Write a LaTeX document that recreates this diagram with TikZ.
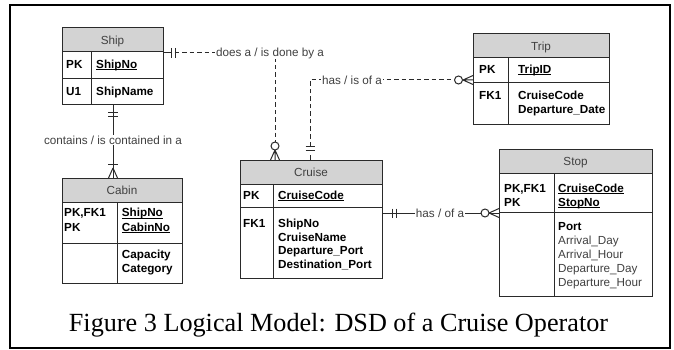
\documentclass[tikz,border=0pt]{standalone}
\usepackage{fontspec}
\setmainfont{Liberation Sans}
\newfontfamily\capfont{Liberation Serif}
\usetikzlibrary{calc}

\definecolor{hdrfill}{HTML}{D3D3D3}
\definecolor{lbl}{HTML}{404040}
\definecolor{bordc}{HTML}{2A2A2A}

% key attribute, underlined just below the baseline
\newcommand\keyline[1]{\setbox0\hbox{#1}\rlap{\rule[-1.9pt]{\wd0}{0.75pt}}\box0}
\newcommand\tblfont{\fontsize{11.7}{14}\selectfont}

\begin{document}
\begin{tikzpicture}[x=1pt,y=-1pt,
  tbl/.style 2 args={draw=bordc, line width=1pt, anchor=north west, inner sep=0pt,
    outer sep=0pt, minimum width=#1, minimum height=#2,
    path picture={\fill[hdrfill] (path picture bounding box.north west)
      rectangle ([yshift=-24pt]path picture bounding box.north east);}},
  grid/.style={draw=bordc, line width=1pt},
  head/.style={anchor=base, inner sep=0pt, font=\tblfont, text=lbl},
  cell/.style={anchor=base west, inner sep=0pt, font=\tblfont\bfseries, text=black},
  plain/.style={anchor=base west, inner sep=0pt, font=\tblfont, text=lbl},
  rel/.style={draw=bordc, line width=1pt},
  relopt/.style={rel, dash pattern=on 4.5pt off 3pt},
  lab/.style={inner sep=1pt, fill=white, font=\tblfont, text=lbl},
]
\useasboundingbox (0,0) rectangle (674,350);
\draw[line width=1.6pt] (10,5) rectangle (670,348);

% ---------------- Ship ----------------
\node[tbl={101pt}{77pt}] (ship) at (62,28) {};
\draw[grid] (62,52) -- (163,52) (62,79) -- (163,79) (91,52) -- (91,105);
\node[head] (ship-h) at (112.5,44.5) {Ship};
\node[cell] (ship-k1) at (66,68.3) {PK};
\node[cell] (ship-a1) at (96,68.3) {\keyline{ShipNo}};
\node[cell] (ship-k2) at (66,96) {U1};
\node[cell] (ship-a2) at (96,96) {ShipName};

% ---------------- Trip ----------------
\node[tbl={136pt}{91pt}] (trip) at (473,34) {};
\draw[grid] (473,58) -- (609,58) (473,83) -- (609,83) (508,58) -- (508,125);
\node[head] (trip-h) at (541,50.5) {Trip};
\node[cell] (trip-k1) at (479,73.3) {PK};
\node[cell] (trip-a1) at (518,73.3) {\keyline{TripID}};
\node[cell] (trip-k2) at (479,99.5) {FK1};
\foreach \t [count=\i from 0] in {CruiseCode,Departure\_Date}
  \node[cell] (trip-b\i) at (518,99.5+14*\i) {\t};

% ---------------- Cabin ----------------
\node[tbl={120pt}{105pt}] (cabin) at (62,178) {};
\draw[grid] (62,202) -- (182,202) (62,243) -- (182,243) (117,202) -- (117,283);
\node[head] (cabin-h) at (122,194.5) {Cabin};
\foreach \t [count=\i from 0] in {{PK,FK1},PK}
  \node[cell] (cabin-k\i) at (64,216.7+14.3*\i) {\t};
\foreach \t [count=\i from 0] in {ShipNo,CabinNo}
  \node[cell] (cabin-a\i) at (121.7,216.7+14.3*\i) {\keyline{\t}};
\foreach \t [count=\i from 0] in {Capacity,Category}
  \node[cell] (cabin-b\i) at (121.7,258+14*\i) {\t};

% ---------------- Cruise ----------------
\node[tbl={142pt}{118pt}] (cruise) at (240,160) {};
\draw[grid] (240,184) -- (382,184) (240,207) -- (382,207) (273,184) -- (273,278);
\node[head] (cruise-h) at (311,176.5) {Cruise};
\node[cell] (cruise-k1) at (243,199) {PK};
\node[cell] (cruise-a1) at (278,199) {\keyline{CruiseCode}};
\node[cell] (cruise-k2) at (243,227.3) {FK1};
\foreach \t [count=\i from 0] in {ShipNo,CruiseName,Departure\_Port,Destination\_Port}
  \node[cell] (cruise-b\i) at (278,227.3+13.7*\i) {\t};

% ---------------- Stop ----------------
\node[tbl={153pt}{147pt}] (stop) at (499,149) {};
\draw[grid] (499,173) -- (652,173) (499,212) -- (652,212) (554,173) -- (554,296);
\node[head] (stop-h) at (575.5,165.5) {Stop};
\foreach \t [count=\i from 0] in {{PK,FK1},PK}
  \node[cell] (stop-k\i) at (504,192.3+14*\i) {\t};
\foreach \t [count=\i from 0] in {CruiseCode,StopNo}
  \node[cell] (stop-a\i) at (558,192.3+14*\i) {\keyline{\t}};
\node[cell] (stop-b0) at (558,230) {Port};
\foreach \t [count=\i from 1] in {Arrival\_Day,Arrival\_Hour,Departure\_Day,Departure\_Hour}
  \node[plain] (stop-b\i) at (558,230+14.2*\i) {\t};

% ---------------- Ship -- Cruise (dashed) ----------------
\coordinate (sc-a) at ($(ship.north east)+(0,25)$);
\coordinate (sc-b) at ($(cruise.north west)+(35,0)$);
\draw[rel] (sc-a) -- ++(4,0);
\draw[rel] ($(sc-a)+(8,-5)$) -- ++(0,10) ($(sc-a)+(12,-5)$) -- ++(0,10);
\draw[relopt] ($(sc-a)+(4,0)$) -| ($(sc-b)+(0,-18)$);
\draw[rel] ($(sc-b)+(0,-10)$) -- ($(sc-b)+(-4.5,0)$)
           ($(sc-b)+(0,-10)$) -- (sc-b)
           ($(sc-b)+(0,-10)$) -- ($(sc-b)+(4.5,0)$);
\draw[rel, fill=white] ($(sc-b)+(0,-14)$) circle (4);
\node[lab] (sc-lab) at (270,53) {does a / is done by a};

% ---------------- Cruise -- Trip (dashed) ----------------
\coordinate (ct-a) at ($(cruise.north west)+(70,0)$);
\coordinate (ct-b) at ($(trip.north west)+(0,46)$);
\draw[rel] (ct-a) -- ++(0,-5);
\draw[rel] ($(ct-a)+(-4.5,-10)$) -- ++(9,0) ($(ct-a)+(-4.5,-14)$) -- ++(9,0);
\draw[relopt] ($(ct-a)+(0,-14)$) |- ($(ct-b)+(-19,0)$);
\draw[rel] ($(ct-b)+(-10,0)$) -- ($(ct-b)+(0,-4.5)$)
           ($(ct-b)+(-10,0)$) -- (ct-b)
           ($(ct-b)+(-10,0)$) -- ($(ct-b)+(0,4.5)$);
\draw[rel, fill=white] ($(ct-b)+(-14.5,0)$) circle (4);
\node[lab] (ct-lab) at (352,80) {has / is of a};

% ---------------- Ship -- Cabin ----------------
\coordinate (sb-a) at ($(ship.south west)+(51,0)$);
\coordinate (sb-b) at ($(cabin.north west)+(51,0)$);
\draw[rel] (sb-a) -- (sb-b);
\draw[rel] ($(sb-a)+(-5,8)$) -- ++(10,0) ($(sb-a)+(-5,12)$) -- ++(10,0);
\draw[rel] ($(sb-b)+(-5,-14)$) -- ++(10,0);
\draw[rel] ($(sb-b)+(0,-10)$) -- ($(sb-b)+(-4.5,0)$)
           ($(sb-b)+(0,-10)$) -- ($(sb-b)+(4.5,0)$);
\node[lab] (sb-lab) at (113,140) {contains / is contained in a};

% ---------------- Cruise -- Stop ----------------
\coordinate (cs-a) at ($(cruise.north east)+(0,53)$);
\coordinate (cs-b) at ($(stop.north west)+(0,64)$);
\draw[rel] (cs-a) -- (cs-b);
\draw[rel] ($(cs-a)+(10,-4.5)$) -- ++(0,9) ($(cs-a)+(14,-4.5)$) -- ++(0,9);
\draw[rel] ($(cs-b)+(-10,0)$) -- ($(cs-b)+(0,-4.5)$)
           ($(cs-b)+(-10,0)$) -- ($(cs-b)+(0,4.5)$);
\draw[rel, fill=white] ($(cs-b)+(-14,0)$) circle (4);
\node[lab] (cs-lab) at (440,213) {has / of a};

% ---------------- caption ----------------
\node[anchor=base, inner sep=0pt, font=\capfont\fontsize{26.2}{30}\selectfont] (cap)
  at (338.5,331) {Figure 3 Logical Model: DSD of a Cruise Operator};
\end{tikzpicture}
\end{document}
